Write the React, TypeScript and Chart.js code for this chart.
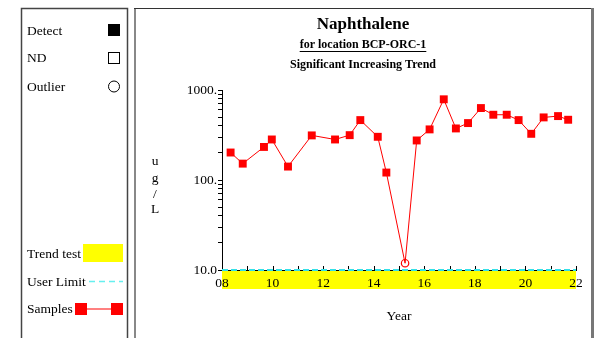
import React, { useEffect, useRef } from 'react';
import { Chart, registerables } from 'chart.js';

Chart.register(...registerables);

const FONT = '"Liberation Serif", "Times New Roman", serif';
const FS = 13.5;

// Sample dates (decimal year, 2-digit) and concentrations (ug/L)
const years = [8.34, 8.82, 9.66, 9.97, 10.61, 11.55, 12.47, 13.05, 13.47, 14.16, 14.5, 15.24, 15.7, 16.21, 16.77, 17.25, 17.73, 18.24, 18.73, 19.26, 19.73, 20.23, 20.72, 21.29, 21.69];
const concentrations = [202, 152, 233, 282, 141, 313, 282, 315, 463, 302, 121, 11.9, 275, 365, 788, 374, 429, 630, 531, 531, 463, 326, 496, 513, 467];
const outlierFlags = [0, 0, 0, 0, 0, 0, 0, 0, 0, 0, 0, 1, 0, 0, 0, 0, 0, 0, 0, 0, 0, 0, 0, 0, 0];

const xTickValues = [8, 9, 10, 11, 12, 13, 14, 15, 16, 17, 18, 19, 20, 21, 22];
const yTickValues = [10, 20, 30, 40, 50, 60, 70, 80, 90, 100, 200, 300, 400, 500, 600, 700, 800, 900, 1000];
const yTickLabels: Record<string, string> = { '10': '10.0', '100': '100.', '1000': '1000.' };

const userLimit = 10;
const trendRange = [8, 22];

const titleMain = 'Naphthalene';
const titleLocation = 'for location BCP-ORC-1';
const titleTrend = 'Significant Increasing Trend';
const yAxisLetters = ['u', 'g', '/', 'L'];
const xAxisTitle = 'Year';
const legendTop = ['Detect', 'ND', 'Outlier'];
const legendBottom = ['Trend test', 'User Limit', 'Samples'];

const panelPlugin = {
  id: 'panels',
  beforeDraw(chart: any) {
    const ctx = chart.ctx;
    const { bottom } = chart.chartArea;
    const xs = chart.scales.x;
    ctx.save();
    ctx.fillStyle = '#ffffff';
    ctx.fillRect(0, 0, chart.width, chart.height);
    const x0 = xs.getPixelForValue(trendRange[0]);
    const x1 = xs.getPixelForValue(trendRange[1]);
    ctx.fillStyle = '#ffff00';
    ctx.fillRect(x0, bottom, x1 - x0, 19);
    ctx.restore();
  },
  afterDraw(chart: any) {
    const ctx = chart.ctx;
    const { left, right, bottom } = chart.chartArea;
    const xs = chart.scales.x;
    const ys = chart.scales.y;
    ctx.save();

    // x ticks (pointing into plot)
    ctx.strokeStyle = '#000';
    ctx.lineWidth = 1;
    xTickValues.forEach((v) => {
      const px = Math.round(xs.getPixelForValue(v)) + 0.5;
      ctx.beginPath();
      ctx.moveTo(px, bottom);
      ctx.lineTo(px, bottom - 4);
      ctx.stroke();
    });

    // user limit line
    const uy = ys.getPixelForValue(userLimit);
    ctx.strokeStyle = '#33e0e8';
    ctx.lineWidth = 2;
    ctx.setLineDash([6, 3]);
    ctx.beginPath();
    ctx.moveTo(left, uy);
    ctx.lineTo(right, uy);
    ctx.stroke();
    ctx.setLineDash([]);

    // panel borders
    ctx.strokeStyle = '#444';
    ctx.lineWidth = 1.5;
    ctx.beginPath();
    ctx.moveTo(21.5, 340);
    ctx.lineTo(21.5, 8.5);
    ctx.lineTo(127.5, 8.5);
    ctx.lineTo(127.5, 340);
    ctx.stroke();

    ctx.strokeStyle = '#888';
    ctx.lineWidth = 2;
    ctx.beginPath();
    ctx.moveTo(135, 340);
    ctx.lineTo(135, 8.5);
    ctx.stroke();
    ctx.strokeStyle = '#333';
    ctx.lineWidth = 1;
    ctx.beginPath();
    ctx.moveTo(134, 8.5);
    ctx.lineTo(593, 8.5);
    ctx.stroke();
    ctx.strokeStyle = '#777';
    ctx.lineWidth = 3;
    ctx.beginPath();
    ctx.moveTo(592.5, 8);
    ctx.lineTo(592.5, 340);
    ctx.stroke();

    // titles
    const cx = 363;
    ctx.fillStyle = '#000';
    ctx.textAlign = 'center';
    ctx.textBaseline = 'middle';
    ctx.font = `bold 17px ${FONT}`;
    ctx.fillText(titleMain, cx, 25);
    ctx.font = `bold 12px ${FONT}`;
    ctx.fillText(titleLocation, cx, 45);
    const w = ctx.measureText(titleLocation).width;
    ctx.lineWidth = 1;
    ctx.strokeStyle = '#000';
    ctx.beginPath();
    ctx.moveTo(cx - w / 2, 51.5);
    ctx.lineTo(cx + w / 2, 51.5);
    ctx.stroke();
    ctx.fillText(titleTrend, cx, 65);

    // y axis title (stacked letters)
    ctx.font = `${FS}px ${FONT}`;
    const ly = [161, 178, 194, 209];
    yAxisLetters.forEach((c, i) => ctx.fillText(c, 155, ly[i]));

    // x axis title
    ctx.fillText(xAxisTitle, (left + right) / 2, 316);

    // legend
    ctx.textAlign = 'left';
    ctx.font = `${FS}px ${FONT}`;
    const topY = [31, 58, 87];
    legendTop.forEach((t, i) => ctx.fillText(t, 27, topY[i]));
    ctx.fillStyle = '#000';
    ctx.fillRect(108, 24, 12, 12);
    ctx.strokeStyle = '#000';
    ctx.lineWidth = 1;
    ctx.strokeRect(108.5, 52.5, 11, 11);
    ctx.beginPath();
    ctx.arc(114, 86.5, 5.5, 0, Math.PI * 2);
    ctx.stroke();

    const botY = [254, 282, 309];
    legendBottom.forEach((t, i) => ctx.fillText(t, 27, botY[i]));
    ctx.fillStyle = '#ffff00';
    ctx.fillRect(83, 244, 40, 18);
    ctx.strokeStyle = '#66f0f0';
    ctx.lineWidth = 1.5;
    ctx.setLineDash([6, 4]);
    ctx.beginPath();
    ctx.moveTo(89, 281.5);
    ctx.lineTo(123, 281.5);
    ctx.stroke();
    ctx.setLineDash([]);
    ctx.strokeStyle = '#ff8080';
    ctx.lineWidth = 2;
    ctx.beginPath();
    ctx.moveTo(86, 309);
    ctx.lineTo(112, 309);
    ctx.stroke();
    ctx.fillStyle = '#ff0000';
    ctx.fillRect(75, 303, 12, 12);
    ctx.fillRect(111, 303, 12, 12);

    ctx.restore();
  },
};

export default function App() {
  const ref = useRef<HTMLCanvasElement | null>(null);
  useEffect(() => {
    if (!ref.current) return;
    const isOut = (c: any) => outlierFlags[c.dataIndex] === 1;
    const chart = new Chart(ref.current, {
      type: 'line',
      data: {
        datasets: [
          {
            label: 'Samples',
            data: years.map((x, i) => ({ x, y: concentrations[i] })),
            borderColor: '#ff0000',
            borderWidth: 1,
            tension: 0,
            pointStyle: (c: any) => (isOut(c) ? 'circle' : 'rect'),
            pointRadius: (c: any) => (isOut(c) ? 3.7 : 5.6),
            pointBackgroundColor: (c: any) => (isOut(c) ? 'rgba(0,0,0,0)' : '#ff0000'),
            pointBorderColor: '#ff0000',
            pointBorderWidth: (c: any) => (isOut(c) ? 1.2 : 0),
            clip: false,
          } as any,
        ],
      },
      options: {
        animation: false,
        responsive: false,
        devicePixelRatio: 1,
        events: [],
        layout: { padding: { top: 90, right: 21, left: 0, bottom: 0 } },
        plugins: {
          legend: { display: false },
          title: { display: false },
          tooltip: { enabled: false },
        },
        scales: {
          x: {
            type: 'linear',
            min: 8,
            max: 22,
            afterBuildTicks: (s: any) => {
              s.ticks = xTickValues.map((v) => ({ value: v }));
            },
            afterFit: (s: any) => {
              s.height = 68;
              s.paddingLeft = 0;
              s.paddingRight = 0;
            },
            ticks: {
              autoSkip: false,
              maxRotation: 0,
              padding: 5,
              color: '#000',
              font: { family: FONT, size: FS },
              callback: (v: any) => (Number(v) % 2 === 0 ? String(v).padStart(2, '0') : ''),
            },
            grid: { display: true, drawOnChartArea: false, drawTicks: false },
            border: { display: true, color: '#000', width: 1 },
          },
          y: {
            type: 'logarithmic',
            min: 10,
            max: 1000,
            afterBuildTicks: (s: any) => {
              s.ticks = yTickValues.map((v) => ({ value: v }));
            },
            afterFit: (s: any) => {
              s.width = 222;
            },
            ticks: {
              autoSkip: false,
              padding: 1,
              color: '#000',
              font: { family: FONT, size: FS },
              callback: (v: any) => yTickLabels[String(v)] ?? '',
            },
            grid: { display: true, drawOnChartArea: false, drawTicks: true, tickLength: 4, color: '#000' },
            border: { display: true, color: '#000', width: 1 },
          },
        },
      } as any,
      plugins: [panelPlugin],
    });
    return () => chart.destroy();
  }, []);
  return (
    <div style={{ position: 'fixed', left: 0, top: 0, width: 597, height: 338 }}>
      <canvas ref={ref} width={597} height={338} style={{ width: 597, height: 338, display: 'block' }} />
    </div>
  );
}
